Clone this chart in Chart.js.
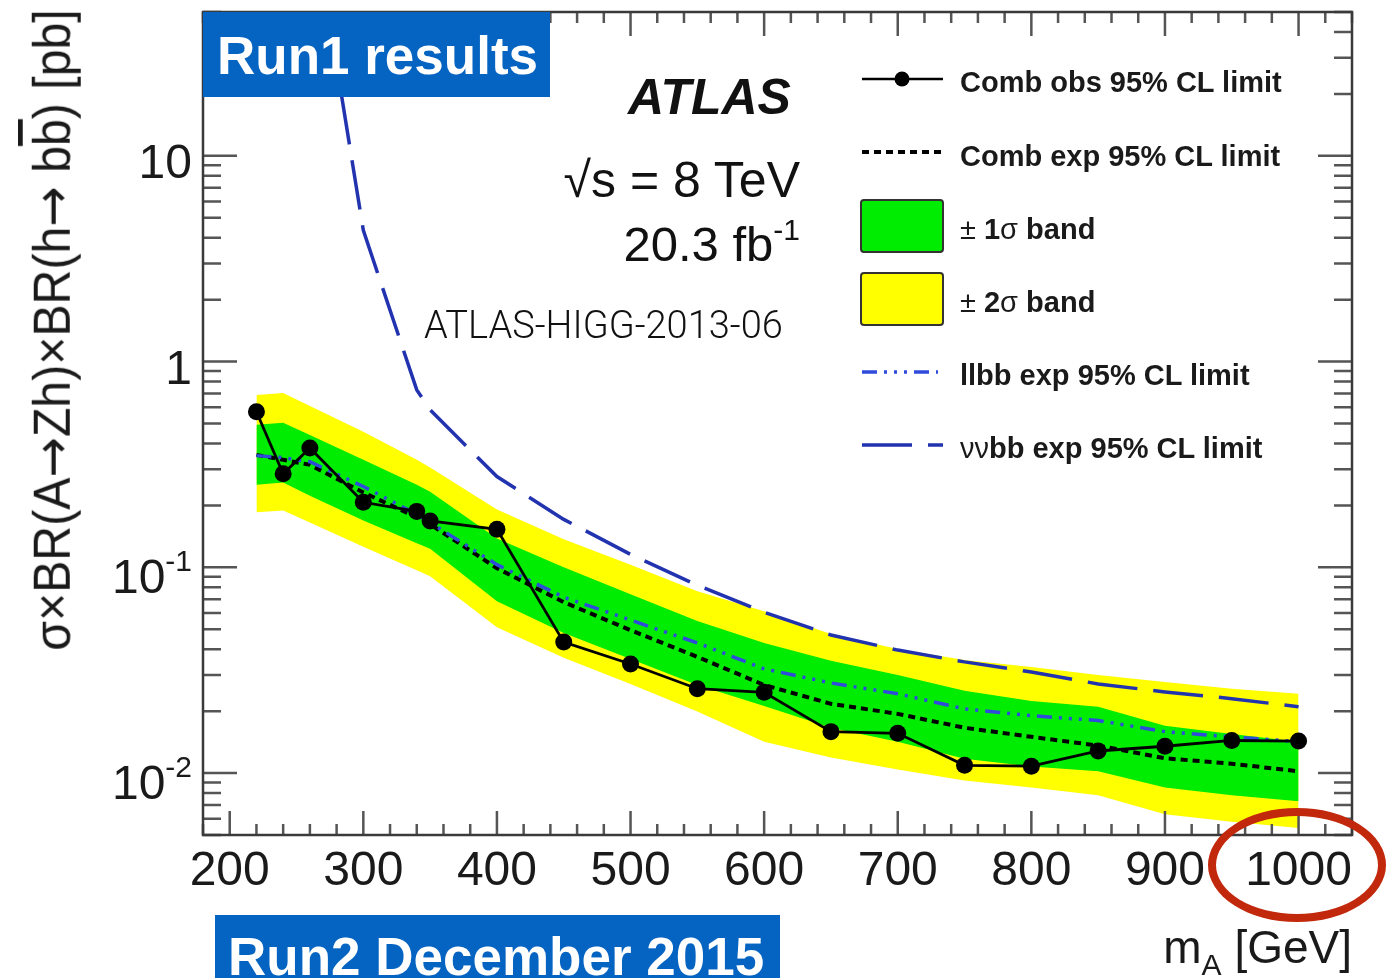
<!DOCTYPE html>
<html>
<head>
<meta charset="utf-8">
<script src="https://cdn.jsdelivr.net/npm/chart.js@4.4.0/dist/chart.umd.min.js"></script>
<style>
  html, body { margin: 0; padding: 0; background: #fff; }
  #wrap { position: relative; width: 1395px; height: 978px; overflow: hidden; background: #fff; }
  #plot { position: absolute; left: 0; top: 0; }
  .t { position: absolute; white-space: nowrap; line-height: 1; color: #111;
       font-family: "Liberation Sans", Arial, Helvetica, sans-serif; }
  .box { position: absolute; background: #0563c1; }
  .banner { color: #fff; font-weight: bold; font-size: 53px; }
  .leg { font-weight: bold; font-size: 29px; left: 960px; color: #1a1a1a; }
  .leg .n { font-weight: normal; }
  .arr { font-family: "DejaVu Sans", sans-serif; }
  #ring { position: absolute; left: 1208px; top: 808px; width: 162px; height: 98px;
          border: 8px solid #c2280b; border-radius: 50%; }
</style>
</head>
<body>
<div id="wrap">
  <canvas id="plot" width="1395" height="978"></canvas>

  <div class="box" style="left:203px; top:12px; width:347px; height:85px;"></div>
  <div class="t banner" style="left:217px; top:29px;">Run1 results</div>

  <div class="box" style="left:215px; top:915px; width:565px; height:80px;"></div>
  <div class="t banner" style="left:228px; top:930px;">Run2 December 2015</div>

  <div class="t" style="left:628px; top:72px; font-size:50px; font-weight:bold; font-style:italic;">ATLAS</div>
  <div class="t" style="right:595px; top:155px; font-size:50px;">√s = 8 TeV</div>
  <div class="t" style="right:595px; top:220px; font-size:49px;">20.3 fb<span style="font-size:30px; position:relative; top:-21px;">-1</span></div>
  <div class="t" style="left:424px; top:306px; font-size:38px; font-family:Roboto, 'Liberation Sans', sans-serif; font-weight:300;">ATLAS-HIGG-2013-06</div>

  <div class="t leg" style="top:68px;">Comb obs 95% CL limit</div>
  <div class="t leg" style="top:142px;">Comb exp 95% CL limit</div>
  <div class="t leg" style="top:215px;"><span class="n">±</span> 1<span class="n">σ</span> band</div>
  <div class="t leg" style="top:288px;"><span class="n">±</span> 2<span class="n">σ</span> band</div>
  <div class="t leg" style="top:361px;">llbb exp 95% CL limit</div>
  <div class="t leg" style="top:434px;"><span class="n">νν</span>bb exp 95% CL limit</div>

  <div id="ytitle" class="t" style="font-size:52px; color:#1a1a1a;">σ×BR(A<span class="arr">→</span>Zh)×BR(h<span class="arr">→</span> b<span style="text-decoration:overline;">b</span>) [pb]</div>
  <div class="t" style="right:43px; top:924px; font-size:46px; color:#1a1a1a;">m<span style="font-size:30px; position:relative; top:12px;">A</span> [GeV]</div>

  <div id="ring"></div>
</div>

<script>
// A -> Zh -> (ll/vv) bb : 95% CL upper limits on sigma x BR [pb] versus m_A [GeV]
const masses    = [220, 240, 260, 300, 340, 350, 400, 450, 500, 550, 600, 650, 700, 750, 800, 850, 900, 950, 1000];
const obsLimit  = [0.57, 0.285, 0.38, 0.207, 0.187, 0.168, 0.153, 0.0433, 0.0339, 0.0257, 0.0247, 0.0159, 0.0156, 0.0109, 0.0108, 0.0128, 0.0135, 0.0144, 0.0143];
const expLimit  = [0.352, 0.333, 0.315, 0.231, 0.175, 0.162, 0.099, 0.0677, 0.0495, 0.0367, 0.0268, 0.0217, 0.0194, 0.0166, 0.0150, 0.0136, 0.0118, 0.0111, 0.0102];
const band1Up   = [0.493, 0.504, 0.440, 0.333, 0.252, 0.233, 0.138, 0.100, 0.074, 0.0548, 0.0429, 0.0351, 0.0300, 0.0251, 0.0224, 0.0210, 0.0170, 0.0155, 0.0142];
const band1Down = [0.252, 0.258, 0.223, 0.169, 0.131, 0.123, 0.0684, 0.0479, 0.0358, 0.0268, 0.0212, 0.0166, 0.0142, 0.01175, 0.01075, 0.0102, 0.0085, 0.0078, 0.0073];
const band2Up   = [0.688, 0.704, 0.609, 0.456, 0.333, 0.306, 0.191, 0.137, 0.103, 0.0765, 0.0612, 0.0474, 0.0401, 0.0354, 0.0328, 0.0300, 0.0277, 0.0257, 0.0243];
const band2Down = [0.185, 0.189, 0.165, 0.126, 0.0967, 0.0904, 0.0512, 0.0363, 0.0271, 0.0199, 0.0142, 0.0119, 0.0104, 0.0092, 0.0085, 0.0078, 0.0063, 0.0058, 0.0054];
const llbbExp   = [0.349, 0.341, 0.326, 0.247, 0.181, 0.165, 0.103, 0.0716, 0.0554, 0.0429, 0.0321, 0.0274, 0.0243, 0.0205, 0.0190, 0.0180, 0.0159, 0.0150, 0.0142];
const vvbbMasses = [260, 300, 340, 350, 400, 450, 500, 550, 600, 650, 700, 750, 800, 850, 900, 950, 1000];
const vvbbExp    = [176, 4.34, 0.728, 0.582, 0.276, 0.171, 0.1156, 0.0818, 0.0605, 0.0469, 0.0396, 0.0347, 0.0310, 0.0271, 0.0248, 0.0230, 0.0210];

const xTicks = [200, 300, 400, 500, 600, 700, 800, 900, 1000];
const yTicks = [10, 1, 0.1, 0.01];
const yTickLabels = [['10', ''], ['1', ''], ['10', '-1'], ['10', '-2']];

const X_MIN = 180, X_MAX = 1040, Y_MIN = 0.005, Y_MAX = 50;

const GREEN = '#00ec00', YELLOW = '#ffff00';
const LLBB_BLUE = '#2f4bdc', VVBB_BLUE = '#2233b0';
const DASH_EXP = [7, 5];
const DASH_LLBB = [15, 7, 3, 7, 3, 7, 3, 7];
const DASH_VVBB = [50, 16];

function pts(values, xs = masses) {
  return xs.map((m, i) => ({ x: m, y: values[i] }));
}

const hidden = 'rgba(0,0,0,0)';
const LABEL_FONT = '48px "Liberation Sans", Arial, sans-serif';
const EXP_FONT = '30px "Liberation Sans", Arial, sans-serif';

// ROOT-style frame: inward ticks on all four sides, labels, legend symbols
const rootFrame = {
  id: 'rootFrame',
  afterDatasetsDraw(chart) {
    const { ctx, chartArea: a, scales: { x, y } } = chart;
    ctx.save();
    ctx.setLineDash([]);
    ctx.strokeStyle = '#555';
    ctx.lineWidth = 2.5;
    ctx.beginPath();
    for (let m = X_MIN; m <= X_MAX; m += 20) {
      const px = x.getPixelForValue(m);
      const len = (m % 100 === 0) ? 24 : 11;
      ctx.moveTo(px, a.bottom); ctx.lineTo(px, a.bottom - len);
      ctx.moveTo(px, a.top);    ctx.lineTo(px, a.top + len);
    }
    for (let e = -3; e <= 1; e++) {
      for (let k = 1; k <= 9; k++) {
        const v = k * Math.pow(10, e);
        if (v < Y_MIN * 0.999 || v > Y_MAX * 1.001) continue;
        const py = y.getPixelForValue(v);
        const len = (k === 1) ? 34 : 18;
        ctx.moveTo(a.left, py);  ctx.lineTo(a.left + len, py);
        ctx.moveTo(a.right, py); ctx.lineTo(a.right - len, py);
      }
    }
    ctx.stroke();

    ctx.strokeStyle = '#3a3a3a';
    ctx.lineWidth = 2.5;
    ctx.strokeRect(a.left, a.top, a.right - a.left, a.bottom - a.top);

    // tick labels
    ctx.fillStyle = '#1a1a1a';
    ctx.font = LABEL_FONT;
    ctx.textAlign = 'center';
    ctx.textBaseline = 'alphabetic';
    xTicks.forEach(m => ctx.fillText(String(m), x.getPixelForValue(m), 885));

    ctx.textAlign = 'right';
    yTicks.forEach((v, i) => {
      const py = y.getPixelForValue(v);
      const [base, exp] = yTickLabels[i];
      const right = 192;
      if (exp) {
        ctx.font = EXP_FONT;
        const ew = ctx.measureText(exp).width;
        ctx.fillText(exp, right, py + 4);
        ctx.font = LABEL_FONT;
        ctx.fillText(base, right - ew, py + 26);
      } else {
        ctx.font = LABEL_FONT;
        ctx.fillText(base, right, py + 22);
      }
    });

    // legend symbols
    const L0 = 862, L1 = 943;
    ctx.lineCap = 'butt';
    // observed
    ctx.strokeStyle = '#000'; ctx.lineWidth = 2.5; ctx.setLineDash([]);
    ctx.beginPath(); ctx.moveTo(L0, 79); ctx.lineTo(L1, 79); ctx.stroke();
    ctx.fillStyle = '#000';
    ctx.beginPath(); ctx.arc(902, 79, 7.5, 0, Math.PI * 2); ctx.fill();
    // expected
    ctx.lineWidth = 4; ctx.setLineDash(DASH_EXP);
    ctx.beginPath(); ctx.moveTo(L0, 152); ctx.lineTo(L1, 152); ctx.stroke();
    // bands
    ctx.setLineDash([]);
    ctx.lineWidth = 2; ctx.strokeStyle = '#333';
    ctx.fillStyle = GREEN;
    ctx.beginPath(); ctx.roundRect(861, 200, 82, 52, 3); ctx.fill(); ctx.stroke();
    ctx.fillStyle = YELLOW;
    ctx.beginPath(); ctx.roundRect(861, 273, 82, 52, 3); ctx.fill(); ctx.stroke();
    // llbb
    ctx.strokeStyle = LLBB_BLUE; ctx.lineWidth = 3.5; ctx.setLineDash(DASH_LLBB);
    ctx.beginPath(); ctx.moveTo(L0, 372); ctx.lineTo(L1 - 5, 372); ctx.stroke();
    // vvbb
    ctx.strokeStyle = VVBB_BLUE; ctx.lineWidth = 3.5; ctx.setLineDash(DASH_VVBB);
    ctx.beginPath(); ctx.moveTo(L0, 445); ctx.lineTo(L1, 445); ctx.stroke();
    ctx.restore();
  }
};

new Chart(document.getElementById('plot'), {
  type: 'line',
  data: {
    datasets: [
      { label: 'Comb obs 95% CL limit', data: pts(obsLimit), order: 0,
        borderColor: '#000', backgroundColor: '#000', borderWidth: 2.8,
        pointRadius: 8.5, pointHoverRadius: 8.5, pointBorderWidth: 0, fill: false },
      { label: 'vvbb exp 95% CL limit', data: pts(vvbbExp, vvbbMasses), order: 1,
        borderColor: VVBB_BLUE, borderWidth: 3.5, borderDash: DASH_VVBB, pointRadius: 0, fill: false },
      { label: 'llbb exp 95% CL limit', data: pts(llbbExp), order: 2,
        borderColor: LLBB_BLUE, borderWidth: 3.5, borderDash: DASH_LLBB, pointRadius: 0, fill: false },
      { label: 'Comb exp 95% CL limit', data: pts(expLimit), order: 3,
        borderColor: '#000', borderWidth: 4, borderDash: DASH_EXP, pointRadius: 0, fill: false },
      { label: '+1 sigma', data: pts(band1Up), order: 4,
        borderColor: hidden, borderWidth: 1, backgroundColor: GREEN, pointRadius: 0, fill: 5 },
      { label: '-1 sigma', data: pts(band1Down), order: 4,
        borderColor: hidden, borderWidth: 1, pointRadius: 0, fill: false },
      { label: '+2 sigma', data: pts(band2Up), order: 5,
        borderColor: hidden, borderWidth: 1, backgroundColor: YELLOW, pointRadius: 0, fill: 7 },
      { label: '-2 sigma', data: pts(band2Down), order: 5,
        borderColor: hidden, borderWidth: 1, pointRadius: 0, fill: false }
    ]
  },
  options: {
    responsive: false,
    animation: false,
    devicePixelRatio: 1,
    events: [],
    layout: { padding: { left: 203, right: 43, top: 12, bottom: 143 } },
    plugins: { legend: { display: false }, tooltip: { enabled: false } },
    elements: { line: { tension: 0 } },
    scales: {
      x: { type: 'linear', min: X_MIN, max: X_MAX, display: false },
      y: { type: 'logarithmic', min: Y_MIN, max: Y_MAX, display: false }
    }
  },
  plugins: [rootFrame]
});

// rotated y-axis title, stretched to its run along the axis
(function () {
  const el = document.getElementById('ytitle');
  const w = el.offsetWidth, h = el.offsetHeight;
  const fs = 52, baselineX = 70, cy = 330, span = 642;
  const cx = baselineX - 0.3465 * fs;
  el.style.left = (cx - w / 2) + 'px';
  el.style.top = (cy - h / 2) + 'px';
  el.style.transform = 'rotate(-90deg) scaleX(' + (span / w).toFixed(4) + ')';
})();
</script>
</body>
</html>
